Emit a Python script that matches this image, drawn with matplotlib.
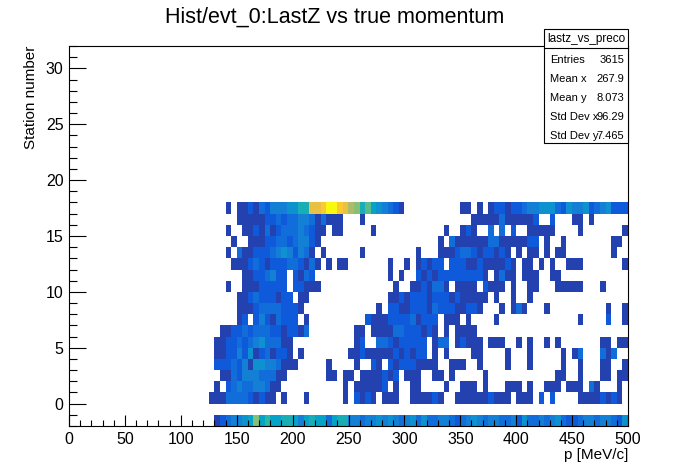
import numpy as np
import matplotlib
matplotlib.use("Agg")
import matplotlib.pyplot as plt
from matplotlib import font_manager
from matplotlib.colors import LinearSegmentedColormap
from matplotlib.patches import Rectangle
from matplotlib.lines import Line2D
from matplotlib.ticker import MultipleLocator

plt.rcParams["font.family"] = ["Liberation Sans", "DejaVu Sans"]

# histogram binning: 100 momentum bins 0..500, 34 station bins -2..32
p_lo, p_hi, n_p = 0, 500, 100
st_lo, st_hi, n_st = -2, 32, 34
first_bin = 25  # rows below start at the 125 MeV/c bin

# bin contents, momentum bins 125, 130, ..., 495 MeV/c
row_m2 = [0, 1, 2, 3, 4, 4, 5, 6, 10, 6, 8, 6, 6, 7, 7, 6, 4, 6, 7, 6, 6, 3, 6, 7, 7,
          4, 4, 3, 4, 4, 5, 4, 5, 4, 3, 4, 5, 3, 5, 3, 3, 4, 4, 3, 2, 3, 4, 5, 4, 3,
          4, 4, 3, 3, 4, 2, 5, 3, 3, 4, 3, 4, 5, 3, 2, 2, 3, 4, 4, 3, 4, 4, 3, 2, 5]
row_00 = [1, 1, 1, 3, 3, 3, 3, 2, 1, 2, 1, 1, 0, 1, 0, 0, 0, 1, 0, 0, 0, 0, 0, 0, 1,
          0, 2, 1, 2, 1, 0, 1, 1, 1, 0, 0, 1, 1, 1, 1, 2, 1, 0, 0, 1, 1, 1, 1, 1, 1,
          2, 1, 1, 1, 0, 1, 1, 1, 0, 2, 0, 2, 0, 0, 0, 0, 1, 1, 1, 1, 2, 1, 2, 1, 0]
row_01 = [0, 1, 0, 2, 3, 4, 3, 3, 4, 4, 3, 1, 1, 0, 0, 0, 0, 0, 0, 0, 0, 0, 0, 0, 1,
          0, 1, 1, 1, 1, 1, 2, 0, 1, 0, 0, 1, 1, 0, 0, 0, 0, 1, 0, 0, 1, 1, 1, 0, 1,
          0, 0, 0, 1, 1, 1, 0, 1, 0, 0, 1, 1, 1, 0, 1, 1, 1, 0, 3, 1, 0, 0, 0, 1, 0]
row_02 = [0, 0, 1, 1, 3, 2, 4, 4, 4, 3, 3, 3, 1, 1, 0, 0, 0, 0, 0, 0, 0, 1, 1, 0, 1,
          1, 0, 1, 1, 1, 1, 2, 1, 2, 0, 1, 1, 1, 0, 0, 1, 1, 0, 1, 0, 0, 0, 0, 0, 1,
          0, 0, 0, 0, 0, 0, 0, 0, 0, 0, 0, 0, 1, 1, 0, 0, 1, 0, 0, 0, 1, 1, 0, 1, 1]
row_03 = [0, 2, 2, 2, 3, 2, 4, 1, 5, 5, 4, 4, 3, 1, 1, 1, 0, 0, 0, 0, 0, 1, 0, 0, 0,
          0, 1, 0, 0, 2, 1, 0, 2, 1, 2, 2, 2, 1, 1, 1, 1, 0, 0, 1, 1, 1, 0, 0, 1, 0,
          0, 0, 0, 1, 0, 0, 0, 1, 0, 0, 0, 0, 0, 1, 0, 0, 1, 0, 0, 0, 1, 1, 0, 0, 1]
row_04 = [0, 1, 1, 2, 2, 4, 2, 5, 1, 2, 3, 1, 2, 2, 1, 0, 1, 0, 0, 0, 0, 0, 0, 0, 0,
          1, 1, 2, 1, 1, 1, 1, 1, 2, 1, 2, 1, 2, 2, 0, 1, 0, 1, 0, 0, 0, 0, 1, 1, 0,
          0, 0, 0, 1, 0, 0, 0, 1, 0, 0, 0, 0, 0, 1, 0, 1, 3, 0, 0, 0, 3, 1, 3, 0, 0]
row_05 = [0, 1, 1, 2, 2, 3, 2, 3, 4, 5, 3, 3, 3, 1, 1, 0, 0, 0, 0, 0, 0, 0, 0, 0, 0,
          0, 1, 2, 0, 0, 3, 3, 2, 1, 2, 2, 2, 2, 2, 0, 1, 3, 3, 0, 1, 2, 1, 1, 1, 0,
          1, 1, 1, 0, 0, 1, 0, 1, 0, 0, 1, 0, 1, 0, 0, 0, 0, 0, 0, 0, 1, 1, 0, 1, 1]
row_06 = [0, 0, 1, 1, 2, 2, 3, 2, 3, 3, 3, 2, 2, 1, 2, 2, 1, 3, 0, 0, 0, 0, 0, 0, 0,
          0, 1, 1, 0, 1, 1, 1, 1, 3, 3, 2, 2, 2, 1, 2, 1, 0, 1, 0, 1, 1, 1, 1, 0, 0,
          0, 0, 0, 0, 0, 0, 0, 0, 0, 0, 0, 0, 0, 0, 0, 0, 0, 0, 0, 0, 0, 0, 0, 0, 0]
row_07 = [0, 0, 0, 0, 0, 1, 2, 0, 2, 4, 2, 1, 3, 2, 2, 2, 0, 1, 0, 0, 0, 0, 0, 0, 0,
          0, 0, 0, 2, 1, 1, 1, 2, 2, 2, 2, 3, 1, 2, 2, 2, 0, 1, 1, 1, 0, 1, 0, 0, 0,
          0, 1, 0, 0, 0, 0, 0, 0, 0, 0, 0, 0, 0, 0, 0, 0, 1, 0, 0, 0, 0, 2, 0, 0, 1]
row_08 = [0, 0, 0, 0, 0, 1, 1, 1, 2, 3, 3, 3, 3, 2, 2, 2, 1, 0, 0, 0, 0, 0, 0, 0, 0,
          0, 0, 0, 0, 0, 1, 0, 2, 2, 1, 1, 2, 2, 2, 1, 3, 2, 2, 2, 1, 1, 2, 2, 1, 0,
          0, 0, 1, 0, 1, 3, 1, 0, 0, 0, 1, 0, 0, 0, 0, 0, 0, 0, 0, 0, 0, 1, 0, 0, 1]
row_09 = [0, 0, 0, 0, 0, 1, 1, 2, 3, 2, 2, 2, 1, 2, 2, 0, 1, 1, 0, 0, 0, 0, 0, 0, 0,
          0, 0, 0, 0, 0, 0, 0, 1, 1, 2, 1, 2, 2, 2, 1, 2, 2, 2, 1, 2, 1, 1, 1, 1, 1,
          0, 1, 0, 0, 1, 0, 0, 1, 0, 0, 0, 0, 0, 0, 0, 0, 0, 0, 0, 0, 0, 0, 0, 0, 0]
row_10 = [0, 0, 0, 1, 0, 0, 1, 1, 1, 2, 2, 2, 2, 2, 0, 2, 2, 1, 1, 1, 0, 0, 0, 0, 0,
          0, 0, 0, 0, 0, 0, 0, 0, 1, 0, 0, 1, 1, 2, 1, 3, 3, 1, 0, 1, 1, 1, 1, 0, 2,
          1, 1, 1, 0, 1, 0, 0, 1, 1, 0, 0, 0, 1, 1, 1, 1, 1, 0, 0, 0, 1, 0, 0, 0, 0]
row_11 = [0, 0, 0, 0, 0, 0, 1, 1, 2, 2, 3, 4, 2, 2, 0, 2, 1, 3, 2, 0, 0, 0, 0, 0, 0,
          0, 0, 0, 0, 0, 0, 0, 1, 0, 1, 0, 0, 2, 1, 2, 1, 2, 2, 2, 2, 2, 2, 2, 2, 1,
          0, 1, 3, 1, 1, 0, 1, 1, 1, 0, 0, 1, 1, 0, 0, 0, 0, 0, 0, 0, 0, 0, 0, 0, 0]
row_12 = [0, 0, 0, 0, 1, 1, 1, 2, 3, 2, 1, 2, 2, 2, 3, 3, 2, 1, 3, 1, 0, 1, 0, 1, 1,
          0, 0, 0, 0, 0, 0, 0, 1, 0, 0, 1, 0, 1, 2, 1, 2, 2, 0, 2, 2, 2, 1, 1, 2, 1,
          1, 1, 1, 2, 1, 0, 1, 1, 0, 1, 0, 1, 0, 0, 1, 1, 1, 0, 0, 0, 0, 0, 0, 0, 1]
row_13 = [0, 0, 0, 1, 0, 3, 1, 1, 2, 2, 2, 3, 4, 5, 4, 2, 4, 3, 1, 0, 1, 0, 0, 0, 0,
          0, 0, 1, 0, 0, 0, 0, 0, 0, 0, 0, 0, 1, 0, 0, 0, 1, 1, 1, 2, 3, 3, 2, 1, 2,
          2, 1, 2, 1, 0, 1, 0, 1, 1, 0, 1, 0, 1, 1, 0, 0, 0, 0, 0, 0, 0, 0, 1, 0, 0]
row_14 = [0, 0, 0, 0, 1, 0, 0, 1, 1, 1, 2, 2, 3, 3, 2, 3, 4, 4, 2, 1, 0, 0, 0, 0, 0,
          0, 0, 0, 0, 0, 0, 0, 0, 0, 0, 0, 0, 0, 0, 0, 0, 1, 0, 3, 1, 1, 1, 1, 1, 1,
          3, 3, 1, 1, 1, 1, 1, 2, 2, 0, 1, 0, 0, 1, 0, 0, 0, 0, 0, 0, 0, 0, 1, 1, 0]
row_15 = [0, 0, 0, 1, 0, 0, 1, 1, 2, 1, 3, 1, 2, 3, 3, 3, 4, 3, 2, 1, 1, 0, 1, 1, 0,
          0, 0, 0, 0, 1, 0, 0, 0, 0, 0, 0, 0, 0, 0, 0, 0, 0, 1, 0, 0, 1, 2, 1, 0, 0,
          3, 0, 3, 0, 2, 0, 0, 1, 1, 1, 1, 1, 0, 0, 0, 0, 1, 0, 0, 0, 0, 0, 0, 0, 1]
row_16 = [0, 0, 0, 0, 0, 1, 1, 1, 1, 1, 2, 2, 3, 2, 3, 3, 4, 4, 3, 1, 3, 1, 1, 1, 0,
          0, 0, 1, 0, 0, 0, 0, 0, 0, 0, 0, 0, 0, 0, 0, 0, 0, 0, 0, 0, 0, 0, 1, 1, 1,
          1, 1, 3, 1, 1, 1, 1, 1, 2, 0, 0, 2, 0, 0, 0, 1, 1, 0, 1, 0, 0, 0, 0, 0, 0]
row_17 = [0, 0, 0, 1, 0, 1, 1, 2, 1, 3, 2, 4, 4, 4, 5, 5, 7, 7, 13, 13, 14, 16, 16, 14, 13,
          11, 10, 7, 9, 6, 5, 4, 3, 2, 1, 0, 0, 0, 0, 0, 0, 0, 0, 0, 0, 1, 1, 0, 1, 0,
          1, 2, 2, 1, 2, 2, 3, 4, 4, 5, 5, 5, 3, 2, 5, 4, 4, 5, 2, 3, 4, 5, 2, 2, 2]

stations = [-2, 0, 1, 2, 3, 4, 5, 6, 7, 8, 9, 10, 11, 12, 13, 14, 15, 16, 17]
rows = [row_m2, row_00, row_01, row_02, row_03, row_04, row_05, row_06, row_07,
        row_08, row_09, row_10, row_11, row_12, row_13, row_14, row_15, row_16, row_17]

stat_names = ["Entries", "Mean x", "Mean y", "Std Dev x", "Std Dev y"]
stat_values = ["3615", "267.9", "8.073", "96.29", "7.465"]

# fill the 2D histogram
counts = np.zeros((n_st, n_p))
for st, r in zip(stations, rows):
    counts[st - st_lo, first_bin:first_bin + len(r)] = r
counts = np.ma.masked_equal(counts, 0)

# ROOT kBird palette
bird = LinearSegmentedColormap.from_list("bird", [
    (0.0000, (0.2082, 0.1664, 0.5293)),
    (0.1250, (0.0592, 0.3599, 0.8684)),
    (0.2500, (0.0780, 0.5041, 0.8385)),
    (0.3750, (0.0232, 0.6419, 0.7914)),
    (0.5000, (0.1802, 0.7178, 0.6425)),
    (0.6250, (0.5301, 0.7492, 0.4662)),
    (0.7500, (0.8186, 0.7328, 0.3499)),
    (0.8750, (0.9956, 0.7862, 0.1968)),
    (1.0000, (0.9764, 0.9832, 0.0539)),
], N=255)
bird.set_bad("white")

# narrower face for the stats box, if there is one
try:
    font_manager.findfont("Liberation Sans Narrow", fallback_to_default=False)
    stats_font = ["Liberation Sans Narrow"]
    head_size, row_size = 10, 9.2
except ValueError:
    stats_font = ["Liberation Sans"]
    head_size, row_size = 8.5, 8

W, H = 698, 474


def fx(px):
    return px / W


def fy(py):
    return 1 - py / H


fig = plt.figure(figsize=(W / 100, H / 100), dpi=100)
ax = fig.add_axes([fx(69), fy(426), fx(628) - fx(69), fy(46) - fy(426)])

ax.imshow(counts, cmap=bird, vmin=0, vmax=16, origin="lower", aspect="auto",
          interpolation="nearest", extent=[p_lo, p_hi, st_lo, st_hi])
ax.set_xlim(p_lo, p_hi)
ax.set_ylim(st_lo, st_hi)

ax.xaxis.set_major_locator(MultipleLocator(50))
ax.xaxis.set_minor_locator(MultipleLocator(10))
ax.yaxis.set_major_locator(MultipleLocator(5))
ax.yaxis.set_minor_locator(MultipleLocator(1))
ax.tick_params(which="both", direction="in", top=False, right=False,
               width=0.8, labelsize=11.5, colors="black")
ax.tick_params(axis="x", which="major", length=8.2, pad=4)
ax.tick_params(axis="x", which="minor", length=4.1)
ax.tick_params(axis="y", which="major", length=12.1, pad=4)
ax.tick_params(axis="y", which="minor", length=6)
for s in ax.spines.values():
    s.set_linewidth(0.8)

fig.text(fx(335), fy(17), "Hist/evt_0:LastZ vs true momentum",
         ha="center", va="center", fontsize=15.5)
fig.text(fx(628), fy(455), "p [MeV/c]", ha="right", va="center", fontsize=11)
fig.text(fx(31), fy(46), "Station number", ha="center", va="top",
         rotation=90, fontsize=11)

# stats box
box_l, box_r, box_t, box_b, head_b = 544, 628, 29, 143, 48
fig.add_artist(Rectangle((fx(box_l), fy(box_b)), fx(box_r) - fx(box_l),
                         fy(box_t) - fy(box_b), transform=fig.transFigure,
                         facecolor="white", edgecolor="black", linewidth=0.8,
                         zorder=5))
fig.add_artist(Line2D([fx(box_l), fx(box_r)], [fy(head_b), fy(head_b)],
                      transform=fig.transFigure, color="black",
                      linewidth=0.8, zorder=6))
fig.text(fx((box_l + box_r) / 2), fy(39), "lastz_vs_preco", family=stats_font,
         ha="center", va="center", fontsize=head_size, zorder=7)
for i, (name, val) in enumerate(zip(stat_names, stat_values)):
    y = fy(60 + i * 19)
    fig.text(fx(550), y, name, family=stats_font, ha="left", va="center",
             fontsize=row_size, zorder=7)
    fig.text(fx(624), y, val, family=stats_font, ha="right", va="center",
             fontsize=row_size, zorder=7)

fig.savefig("out.png", dpi=100)
